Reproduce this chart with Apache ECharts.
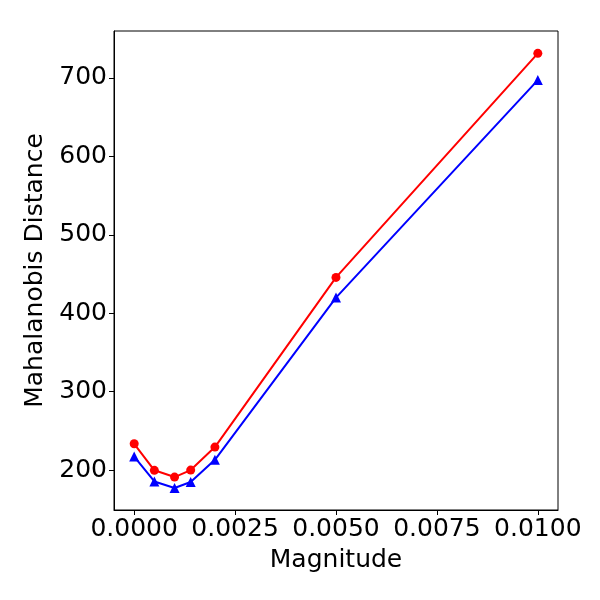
<!DOCTYPE html>
<html><head><meta charset="utf-8">
<script src="https://cdn.jsdelivr.net/npm/echarts@6/dist/echarts.min.js"></script>
<style>html,body{margin:0;padding:0;background:#fff}#c{width:600px;height:600px}</style>
</head><body><div id="c"></div>
<script>
const magnitudes = [0, 0.0005, 0.001, 0.0014, 0.002, 0.005, 0.01];
const redValues = [233.6, 199.8, 191.2, 200.1, 229.4, 445.7, 731.4];
const blueValues = [217.4, 185.6, 177.2, 184.9, 213.2, 420.0, 697.3];
const xTicks = [0, 0.0025, 0.005, 0.0075, 0.01];
const yTicks = [200, 300, 400, 500, 600, 700];

const font = 'DejaVu Sans';
const chart = echarts.init(document.getElementById('c'), null, {renderer: 'canvas'});
chart.setOption({
  animation: false,
  backgroundColor: '#fff',
  grid: {left: 114, right: 42, top: 31, bottom: 90, show: true, borderColor: '#000', borderWidth: 1, backgroundColor: 'transparent'},
  xAxis: {
    type: 'value', min: -0.0005, max: 0.0105,
    name: 'Magnitude', nameLocation: 'middle', nameGap: 38,
    nameTextStyle: {fontFamily: font, fontSize: 25, color: '#000'},
    axisLine: {show: true, onZero: false, lineStyle: {color: '#000', width: 1}},
    axisTick: {show: true, length: 5, lineStyle: {color: '#000'}, customValues: xTicks},
    axisLabel: {fontFamily: font, fontSize: 25, color: '#000', margin: 7, customValues: xTicks,
      formatter: v => v.toFixed(4)},
    splitLine: {show: false}
  },
  yAxis: {
    type: 'value', min: 149.2, max: 759.9,
    name: 'Mahalanobis Distance', nameLocation: 'middle', nameGap: 64,
    nameTextStyle: {fontFamily: font, fontSize: 25, color: '#000'},
    axisLine: {show: true, onZero: false, lineStyle: {color: '#000', width: 1}},
    axisTick: {show: true, length: 5, lineStyle: {color: '#000'}, customValues: yTicks},
    axisLabel: {fontFamily: font, fontSize: 25, color: '#000', margin: 7, customValues: yTicks,
      formatter: v => String(Math.round(v))},
    splitLine: {show: false}
  },
  series: [
    {type: 'line', data: magnitudes.map((m, i) => [m, redValues[i]]), symbol: 'circle', symbolSize: 9,
     itemStyle: {color: '#ff0000'}, lineStyle: {color: '#ff0000', width: 2}},
    {type: 'line', data: magnitudes.map((m, i) => [m, blueValues[i]]), symbol: 'triangle', symbolSize: 10,
     itemStyle: {color: '#0000ff'}, lineStyle: {color: '#0000ff', width: 2}}
  ]
});
</script></body></html>
